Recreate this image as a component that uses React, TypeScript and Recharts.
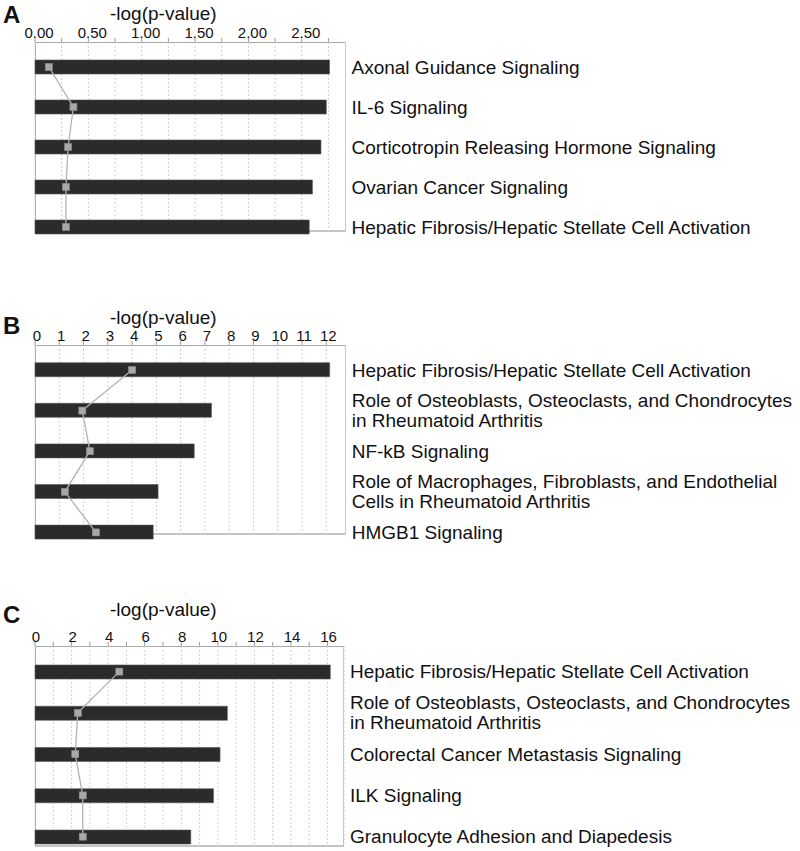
import React from 'react';
import { ComposedChart, Bar, Line, XAxis, YAxis, CartesianGrid } from 'recharts';

// Panel A
const pathwaysA = [
  'Axonal Guidance Signaling',
  'IL-6 Signaling',
  'Corticotropin Releasing Hormone Signaling',
  'Ovarian Cancer Signaling',
  'Hepatic Fibrosis/Hepatic Stellate Cell Activation',
];
const logPA = [2.76, 2.73, 2.68, 2.6, 2.57];
const ratioA = [0.13, 0.36, 0.31, 0.29, 0.29];
const ticksA = [0, 0.25, 0.5, 0.75, 1, 1.25, 1.5, 1.75, 2, 2.25, 2.5, 2.75];
const labelsA = [0, 0.5, 1, 1.5, 2, 2.5];

// Panel B
const pathwaysB = [
  'Hepatic Fibrosis/Hepatic Stellate Cell Activation',
  'Role of Osteoblasts, Osteoclasts, and Chondrocytes\nin Rheumatoid Arthritis',
  'NF-kB Signaling',
  'Role of Macrophages, Fibroblasts, and Endothelial\nCells in Rheumatoid Arthritis',
  'HMGB1 Signaling',
];
const logPB = [12.14, 7.27, 6.56, 5.07, 4.87];
const ratioB = [4.0, 1.95, 2.26, 1.23, 2.51];
const ticksB = [0, 1, 2, 3, 4, 5, 6, 7, 8, 9, 10, 11, 12];
const labelsB = ticksB;

// Panel C
const pathwaysC = [
  'Hepatic Fibrosis/Hepatic Stellate Cell Activation',
  'Role of Osteoblasts, Osteoclasts, and Chondrocytes\nin Rheumatoid Arthritis',
  'Colorectal Cancer Metastasis Signaling',
  'ILK Signaling',
  'Granulocyte Adhesion and Diapedesis',
];
const logPC = [16.15, 10.52, 10.12, 9.76, 8.52];
const ratioC = [4.61, 2.34, 2.2, 2.61, 2.61];
const ticksC = [0, 1, 2, 3, 4, 5, 6, 7, 8, 9, 10, 11, 12, 13, 14, 15, 16];
const labelsC = [0, 2, 4, 6, 8, 10, 12, 14, 16];

const FONT = '"Liberation Sans", Arial, sans-serif';
const AXIS_H = 30;
const PLOT_LEFT = 35;

const PathwayTick = (props: any) => {
  const { x, y, payload } = props;
  const lines = String(payload.value).split('\n');
  const lh = 20;
  const y0 = y - ((lines.length - 1) * lh) / 2;
  return (
    <text x={x} y={y0} fill="#111" fontSize={19} fontFamily={FONT} textAnchor="start">
      {lines.map((l, i) => (
        <tspan key={i} x={x} y={y0 + i * lh} dominantBaseline="central">
          {l}
        </tspan>
      ))}
    </text>
  );
};

const SquareDot = (props: any) => {
  const { cx, cy, index } = props;
  if (cx == null || cy == null) return <g key={index} />;
  return <rect key={index} x={cx - 3.5} y={cy - 3.5} width={7} height={7} fill="#a8a8a8" stroke="#8e8e8e" strokeWidth={0.6} />;
};

type PanelProps = {
  letter: string;
  frameTop: number;
  frameH: number;
  plotW: number;
  names: string[];
  logP: number[];
  ratio: number[];
  max: number;
  ticks: number[];
  labels: number[];
  digits: number;
  padTop: number;
  padBottom: number;
  titleTop: number;
  letterTop: number;
  tickDx: number;
};

const Panel: React.FC<PanelProps> = (p) => {
  const data = p.names.map((name, i) => ({ name, logP: p.logP[i], ratio: p.ratio[i] }));
  const bottomM = 16;
  return (
    <>
      <div
        style={{
          position: 'absolute',
          left: 3,
          top: p.letterTop,
          fontFamily: FONT,
          fontWeight: 'bold',
          fontSize: 24,
          lineHeight: '20px',
          color: '#111',
        }}
      >
        {p.letter}
      </div>
      <div
        style={{
          position: 'absolute',
          left: 110,
          top: p.titleTop,
          fontFamily: FONT,
          fontSize: 19,
          lineHeight: '15px',
          color: '#111',
        }}
      >
        -log(p-value)
      </div>
      <div
        style={{
          position: 'absolute',
          left: PLOT_LEFT,
          top: p.frameTop,
          width: p.plotW,
          height: p.frameH,
          boxSizing: 'border-box',
          borderTop: '1px solid #a8a8a8',
          borderLeft: '1px solid #a8a8a8',
          borderRight: '1px solid #c4c4c4',
          borderBottom: '2px solid #c4c4c4',
          background: '#fff',
        }}
      />
      <div style={{ position: 'absolute', left: 0, top: p.frameTop - AXIS_H }}>
        <ComposedChart
          width={800}
          height={AXIS_H + p.frameH + bottomM}
          data={data}
          layout="vertical"
          margin={{ top: 0, right: 0, bottom: bottomM, left: PLOT_LEFT }}
        >
          <CartesianGrid horizontal={false} stroke="#cfcfcf" strokeDasharray="2 2" />
          <XAxis
            type="number"
            orientation="top"
            domain={[0, p.max]}
            ticks={p.ticks}
            height={AXIS_H}
            axisLine={false}
            tickSize={4}
            tickMargin={0}
            tickLine={{ stroke: '#9a9a9a' }}
            interval={0}
            tick={{ fontSize: 15, fill: '#111', fontFamily: FONT, dx: p.tickDx }}
            tickFormatter={(v: number) => (p.labels.includes(v) ? v.toFixed(p.digits) : '')}
          />
          <YAxis
            type="category"
            dataKey="name"
            orientation="right"
            width={800 - PLOT_LEFT - p.plotW}
            axisLine={false}
            tickLine={false}
            tickSize={6}
            tickMargin={0}
            interval={0}
            padding={{ top: p.padTop, bottom: p.padBottom }}
            tick={<PathwayTick />}
          />
          <Bar dataKey="logP" barSize={14} fill="#2b2b2b" stroke="#555" strokeWidth={0.6} isAnimationActive={false} />
          <Line
            dataKey="ratio"
            type="linear"
            stroke="#b3b3b3"
            strokeWidth={1.3}
            dot={<SquareDot />}
            activeDot={false}
            isAnimationActive={false}
          />
        </ComposedChart>
      </div>
    </>
  );
};

export default function App() {
  return (
    <div
      style={{
        position: 'absolute',
        left: 0,
        top: 0,
        width: 800,
        height: 851,
        overflow: 'hidden',
        background: '#fff',
      }}
    >
      <Panel
        letter="A"
        frameTop={42}
        frameH={190}
        plotW={310.5}
        names={pathwaysA}
        logP={logPA}
        ratio={ratioA}
        max={2.91}
        ticks={ticksA}
        labels={labelsA}
        digits={2}
        padTop={5}
        padBottom={-15}
        titleTop={6}
        letterTop={5}
        tickDx={4}
      />
      <Panel
        letter="B"
        frameTop={345}
        frameH={190}
        plotW={310.7}
        names={pathwaysB}
        logP={logPB}
        ratio={ratioB}
        max={12.8}
        ticks={ticksB}
        labels={labelsB}
        digits={0}
        padTop={4.7}
        padBottom={-17.7}
        titleTop={310}
        letterTop={316}
        tickDx={2}
      />
      <Panel
        letter="C"
        frameTop={646}
        frameH={200.7}
        plotW={309}
        names={pathwaysC}
        logP={logPC}
        ratio={ratioC}
        max={16.9}
        ticks={ticksC}
        labels={labelsC}
        digits={0}
        padTop={5}
        padBottom={-10.6}
        titleTop={602}
        letterTop={605}
        tickDx={1}
      />
    </div>
  );
}
